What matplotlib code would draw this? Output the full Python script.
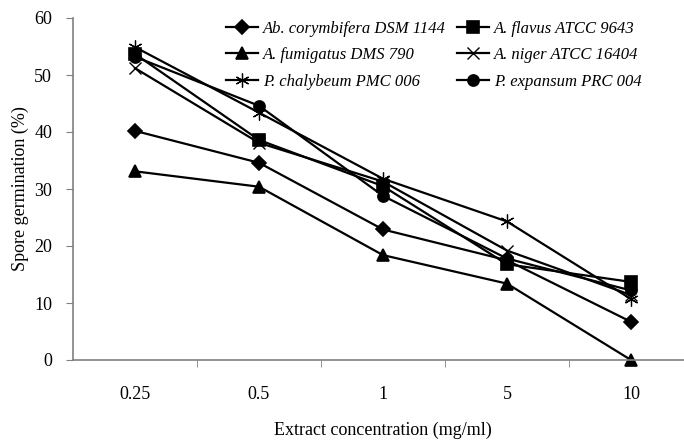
import numpy as np
import matplotlib
matplotlib.use("Agg")
import matplotlib.pyplot as plt

plt.rcParams['font.family'] = ['Liberation Serif', 'DejaVu Serif']

concentrations = ['0.25', '0.5', '1', '5', '10']

ab_corymbifera = [40.2, 34.6, 22.9, 17.5, 6.7]
a_flavus = [53.7, 38.6, 30.5, 16.8, 13.7]
a_fumigatus = [33.1, 30.4, 18.4, 13.4, 0.0]
a_niger = [51.2, 38.1, 31.3, 19.2, 11.4]
p_chalybeum = [54.9, 43.4, 31.8, 24.3, 10.7]
p_expansum = [53.2, 44.6, 28.8, 17.8, 12.2]

series = [
    ('Ab. corymbifera DSM 1144', ab_corymbifera, 'D', 7, 1.2),
    ('A. flavus ATCC 9643', a_flavus, 's', 8, 1.2),
    ('A. fumigatus DMS 790', a_fumigatus, '^', 9, 1.2),
    ('A. niger ATCC 16404', a_niger, 'x', 8, 1.0),
    ('P. chalybeum PMC 006', p_chalybeum, (6, 2, 0), 10, 0.9),
    ('P. expansum PRC 004', p_expansum, 'o', 8, 1.2),
]

fig = plt.figure(figsize=(6.84, 4.42), dpi=100)
ax = fig.add_axes([73/684, 82/442, 620/684, 342/442])

x = np.arange(len(concentrations))
handles = []
for label, vals, mk, ms, mw in series:
    h, = ax.plot(x, vals, color='black', lw=1.6, marker=mk, ms=ms,
                 mew=mw, mfc='black', mec='black', label=label, clip_on=False)
    handles.append(h)

ax.set_xlim(-0.5, len(concentrations) - 0.5)
ax.set_ylim(0, 60)
ax.set_yticks(range(0, 61, 10))
ax.set_xticks(x)
ax.set_xticklabels(concentrations)
ax.set_xticks(x[:-1] + 0.5, minor=True)
ax.tick_params(axis='x', which='major', length=0, pad=19, labelsize=13)
ax.tick_params(axis='x', which='minor', length=5, color='#808080', direction='out')
ax.tick_params(axis='y', length=5, color='#808080', labelsize=13, pad=10)

for s in ['top', 'right']:
    ax.spines[s].set_visible(False)
for s in ['left', 'bottom']:
    ax.spines[s].set_color('#808080')
    ax.spines[s].set_linewidth(1.2)

ax.set_ylabel('Spore germination (%)', fontsize=13, labelpad=4)
ax.set_xlabel('Extract concentration (mg/ml)', fontsize=13, labelpad=13)

# legend fills row by row in the reference: reorder for column-major filling
order = [0, 2, 4, 1, 3, 5]
ax.legend([handles[i] for i in order], [series[i][0] for i in order],
          ncol=2, frameon=False, loc='upper left',
          bbox_to_anchor=(226/684, 1 - 21/442), bbox_transform=fig.transFigure,
          prop={'style': 'italic', 'size': 12}, handlelength=1.9,
          handletextpad=0.3, columnspacing=0.7, labelspacing=0.62,
          borderpad=0, borderaxespad=0)

fig.savefig('out.png', dpi=100)
